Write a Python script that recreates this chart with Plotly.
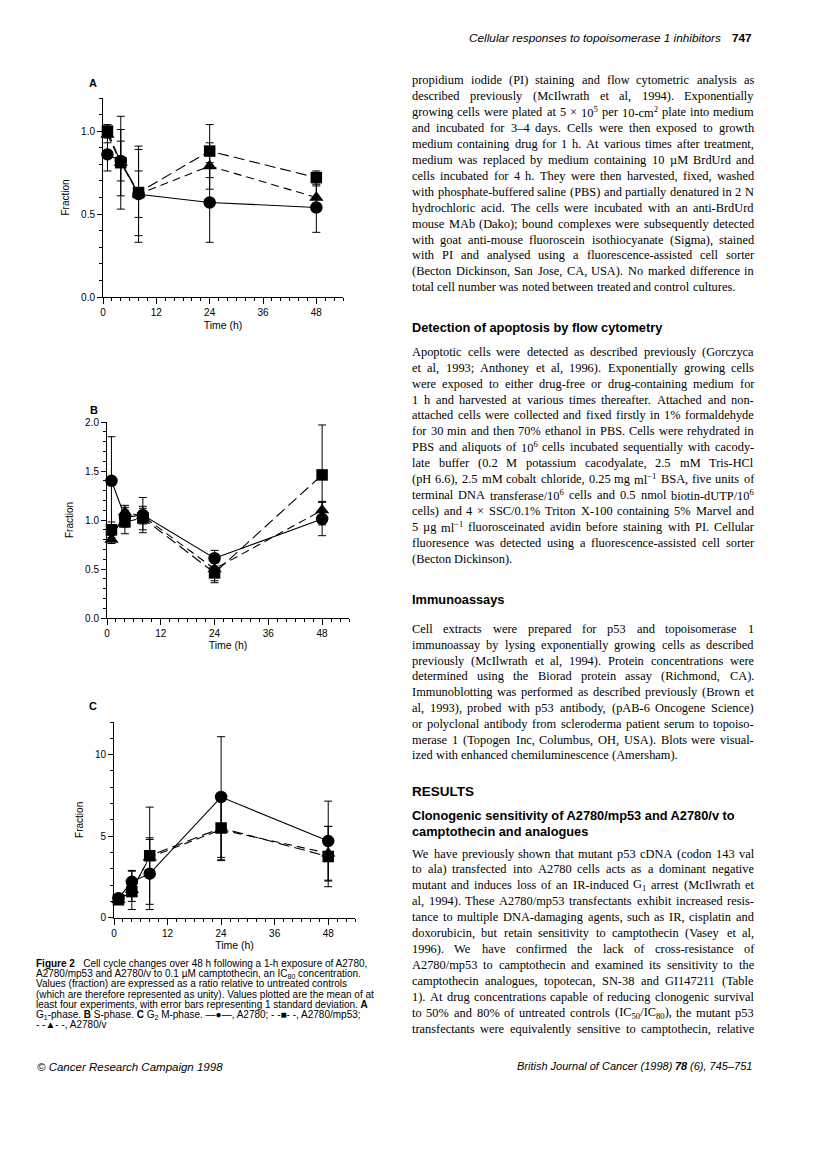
import re
import plotly.graph_objects as go

W, H = 816, 1151
OFF = 8  # page body margin of the html page
SANS = "Liberation Sans"
SERIF = "Liberation Serif"

# ---------------- data ----------------
time_h = [1, 4, 8, 24, 48]
x_ticks = [0, 12, 24, 36, 48]

# A: G1-phase
g1_a2780 = [0.86, 0.82, 0.62, 0.57, 0.54]
g1_a2780_sd = [0.10, 0.12, 0.29, 0.24, 0.15]
g1_mp53 = [1.00, 0.81, 0.63, 0.88, 0.72]
g1_mp53_sd = [0.04, 0.28, 0.26, 0.16, 0.04]
g1_v = [0.98, 0.81, 0.62, 0.79, 0.60]
g1_v_sd = [0.05, 0.20, 0.14, 0.14, 0.07]

# B: S-phase
s_a2780 = [1.40, 1.03, 1.05, 0.61, 1.01]
s_a2780_sd = [0.45, 0.10, 0.18, 0.08, 0.17]
s_mp53 = [0.90, 0.98, 1.02, 0.46, 1.46]
s_mp53_sd = [0.08, 0.12, 0.12, 0.10, 0.51]
s_v = [0.80, 1.08, 1.04, 0.50, 1.10]
s_v_sd = [0.04, 0.07, 0.08, 0.12, 0.09]

# C: G2/M-phase
g2m_a2780 = [1.2, 2.2, 2.7, 7.4, 4.7]
g2m_a2780_sd = [0.2, 0.65, 2.2, 3.7, 2.45]
g2m_mp53 = [1.1, 1.6, 3.8, 5.5, 3.75]
g2m_mp53_sd = [0.1, 0.6, 2.98, 1.95, 1.85]
g2m_v = [1.1, 1.7, 3.7, 5.4, 3.95]
g2m_v_sd = [0.1, 1.2, 1.1, 1.9, 1.65]

series_names = ["A2780", "A2780/mp53", "A2780/v"]

fig = go.Figure()


def py(y):
    return 1 - (y - OFF) / H


def pxx(x):
    return (x - OFF) / W


styles = {
    "A2780": dict(symbol="circle", size=12.5, dash="solid"),
    "A2780/mp53": dict(symbol="square", size=11.5, dash="11px,5px"),
    "A2780/v": dict(symbol="triangle-up", size=12.5, dash="8px,5px"),
}

panels = [
    ("x", "y", [(g1_a2780, g1_a2780_sd), (g1_mp53, g1_mp53_sd), (g1_v, g1_v_sd)]),
    ("x2", "y2", [(s_a2780, s_a2780_sd), (s_mp53, s_mp53_sd), (s_v, s_v_sd)]),
    ("x3", "y3", [(g2m_a2780, g2m_a2780_sd), (g2m_mp53, g2m_mp53_sd), (g2m_v, g2m_v_sd)]),
]

for xa, ya, data in panels:
    for name, (vals, sd) in zip(series_names, data):
        st = styles[name]
        fig.add_trace(go.Scatter(
            x=time_h, y=vals, name=name, xaxis=xa, yaxis=ya,
            mode="lines+markers", cliponaxis=False,
            line=dict(color="black", width=1.1, dash=st["dash"]),
            marker=dict(symbol=st["symbol"], size=st["size"], color="black"),
            error_y=dict(type="data", array=sd, visible=True, color="black",
                         thickness=1, width=4),
            showlegend=False,
        ))


def xaxis_cfg(x0, x1, y_axis, standoff):
    return dict(
        domain=[pxx(x0), pxx(x1)], range=[0, 54], anchor=y_axis,
        tickvals=x_ticks, ticks="outside", ticklen=6, tickwidth=1, tickcolor="black",
        showline=True, linecolor="black", linewidth=1, showgrid=False, zeroline=False,
        tickfont=dict(family=SANS, size=10, color="black"), automargin=False,
        minor=dict(dtick=2, tick0=0, ticks="outside", ticklen=3, tickcolor="black", showgrid=False),
        title=dict(text="Time (h)", font=dict(family=SANS, size=10.5, color="black"), standoff=standoff),
    )


def yaxis_cfg(y0px, y1px, rng, tickvals, ticktext, minor_dt, x_axis, standoff):
    return dict(
        domain=[py(y0px), py(y1px)], range=rng, anchor=x_axis,
        tickvals=tickvals, ticktext=ticktext, ticks="outside", ticklen=5, tickwidth=1,
        tickcolor="black", showline=True, linecolor="black", linewidth=1,
        showgrid=False, zeroline=False, automargin=False,
        tickfont=dict(family=SANS, size=10, color="black"),
        minor=dict(dtick=minor_dt, tick0=0, ticks="outside", ticklen=3, tickcolor="black", showgrid=False),
        title=dict(text="Fraction", font=dict(family=SANS, size=10, color="black"), standoff=standoff),
    )


fig.update_layout(
    width=W, height=H, margin=dict(l=0, r=0, t=0, b=0),
    paper_bgcolor="white", plot_bgcolor="white", showlegend=False,
    font=dict(family=SANS, color="black"),
    xaxis=xaxis_cfg(103, 343, "y", 4),
    yaxis=yaxis_cfg(297, 98, [0, 1.2001], [0, 0.5, 1.0], ["0.0", "0.5", "1.0"], 0.1, "x", 9),
    xaxis2=xaxis_cfg(107, 349, "y2", 1),
    yaxis2=yaxis_cfg(618, 422, [0, 2.0001], [0, 0.5, 1.0, 1.5, 2.0], ["0.0", "0.5", "1.0", "1.5", "2.0"], 0.1, "x2", 9),
    xaxis3=xaxis_cfg(114, 355, "y3", 2),
    yaxis3=yaxis_cfg(917.7, 722, [0, 12.001], [0, 5, 10], ["0", "5", "10"], 1, "x3", 9),
)

ann = []


def text(x, y, s, size, family=SANS, xanchor="left", weight="normal", style="normal"):
    ann.append(dict(x=pxx(x), y=py(y), xref="paper", yref="paper", text=s,
                    showarrow=False, xanchor=xanchor, yanchor="middle",
                    font=dict(family=family, size=size, color="black", weight=weight, style=style),
                    align="left", borderpad=0))


# panel letters
text(88, 83, "A", 11, weight="bold")
text(89, 410, "B", 11, weight="bold")
text(88, 706, "C", 11, weight="bold")

# ---------------- right column body text ----------------
TW = {' ': 250, '!': 333, '"': 408, '#': 500, '$': 500, '%': 833, '&': 778, "'": 333, '(': 333,
      ')': 333, '*': 500, '+': 564, ',': 250, '-': 333, '.': 250, '/': 278, ':': 278, ';': 278,
      '<': 564, '=': 564, '>': 564, '?': 444, '@': 921, 'A': 722, 'B': 667, 'C': 667, 'D': 722,
      'E': 611, 'F': 556, 'G': 722, 'H': 722, 'I': 333, 'J': 389, 'K': 722, 'L': 611, 'M': 889,
      'N': 722, 'O': 722, 'P': 556, 'Q': 722, 'R': 667, 'S': 556, 'T': 611, 'U': 722, 'V': 722,
      'W': 944, 'X': 722, 'Y': 722, 'Z': 611, '[': 333, ']': 333, 'a': 444, 'b': 500, 'c': 444,
      'd': 500, 'e': 444, 'f': 333, 'g': 500, 'h': 500, 'i': 278, 'j': 278, 'k': 500, 'l': 278,
      'm': 778, 'n': 500, 'o': 500, 'p': 500, 'q': 500, 'r': 333, 's': 389, 't': 278, 'u': 500,
      'v': 500, 'w': 722, 'x': 500, 'y': 500, 'z': 444, '×': 564, 'µ': 500, '–': 500, '−': 564}


def word_width(word, size):
    total = 0.0
    scale = 1.0
    for part in re.split(r'(<[^>]+>)', word):
        if part.startswith('<'):
            if part in ('<sup>', '<sub>'):
                scale = 0.7
            elif part in ('</sup>', '</sub>'):
                scale = 1.0
            continue
        for ch in part:
            total += TW.get(ch, 500) * scale
    return total * size / 1000.0


BODY_SIZE = 12.4
LEFT, RIGHT = 411, 753


def paragraph(y0, lines, step=15.95, justify_last=False):
    for i, line in enumerate(lines):
        y = y0 + i * step - 1
        words = line.split(' ')
        widths = [word_width(w, BODY_SIZE) for w in words]
        last = (i == len(lines) - 1) and not justify_last
        if last or len(words) == 1:
            gap = 250 * BODY_SIZE / 1000.0
        else:
            gap = (RIGHT - LEFT - sum(widths)) / (len(words) - 1)
            gap = max(gap, 1.5)
        x = LEFT
        for w, wd in zip(words, widths):
            text(x, y, w, BODY_SIZE, SERIF)
            x += wd + gap


para1 = [
    "propidium iodide (PI) staining and flow cytometric analysis as",
    "described previously (McIlwrath et al, 1994). Exponentially",
    "growing cells were plated at 5 × 10<sup>5</sup> per 10-cm<sup>2</sup> plate into medium",
    "and incubated for 3–4 days. Cells were then exposed to growth",
    "medium containing drug for 1 h. At various times after treatment,",
    "medium was replaced by medium containing 10 µM BrdUrd and",
    "cells incubated for 4 h. They were then harvested, fixed, washed",
    "with phosphate-buffered saline (PBS) and partially denatured in 2 N",
    "hydrochloric acid. The cells were incubated with an anti-BrdUrd",
    "mouse MAb (Dako); bound complexes were subsequently detected",
    "with goat anti-mouse fluoroscein isothiocyanate (Sigma), stained",
    "with PI and analysed using a fluorescence-assisted cell sorter",
    "(Becton Dickinson, San Jose, CA, USA). No marked difference in",
    "total cell number was noted between treated and control cultures.",
]
para2 = [
    "Apoptotic cells were detected as described previously (Gorczyca",
    "et al, 1993; Anthoney et al, 1996). Exponentially growing cells",
    "were exposed to either drug-free or drug-containing medium for",
    "1 h and harvested at various times thereafter. Attached and non-",
    "attached cells were collected and fixed firstly in 1% formaldehyde",
    "for 30 min and then 70% ethanol in PBS. Cells were rehydrated in",
    "PBS and aliquots of 10<sup>6</sup> cells incubated sequentially with cacody-",
    "late buffer (0.2 M potassium cacodyalate, 2.5 mM Tris-HCl",
    "(pH 6.6), 2.5 mM cobalt chloride, 0.25 mg ml<sup>−1</sup> BSA, five units of",
    "terminal DNA transferase/10<sup>6</sup> cells and 0.5 nmol biotin-dUTP/10<sup>6</sup>",
    "cells) and 4 × SSC/0.1% Triton X-100 containing 5% Marvel and",
    "5 µg ml<sup>−1</sup> fluorosceinated avidin before staining with PI. Cellular",
    "fluoresence was detected using a fluorescence-assisted cell sorter",
    "(Becton Dickinson).",
]
para3 = [
    "Cell extracts were prepared for p53 and topoisomerase 1",
    "immunoassay by lysing exponentially growing cells as described",
    "previously (McIlwrath et al, 1994). Protein concentrations were",
    "determined using the Biorad protein assay (Richmond, CA).",
    "Immunoblotting was performed as described previously (Brown et",
    "al, 1993), probed with p53 antibody, (pAB-6 Oncogene Science)",
    "or polyclonal antibody from scleroderma patient serum to topoiso-",
    "merase 1 (Topogen Inc, Columbus, OH, USA). Blots were visual-",
    "ized with enhanced chemiluminescence (Amersham).",
]
para4 = [
    "We have previously shown that mutant p53 cDNA (codon 143 val",
    "to ala) transfected into A2780 cells acts as a dominant negative",
    "mutant and induces loss of an IR-induced G<sub>1</sub> arrest (McIlwrath et",
    "al, 1994). These A2780/mp53 transfectants exhibit increased resis-",
    "tance to multiple DNA-damaging agents, such as IR, cisplatin and",
    "doxorubicin, but retain sensitivity to camptothecin (Vasey et al,",
    "1996). We have confirmed the lack of cross-resistance of",
    "A2780/mp53 to camptothecin and examined its sensitivity to the",
    "camptothecin analogues, topotecan, SN-38 and GI147211 (Table",
    "1). At drug concentrations capable of reducing clonogenic survival",
    "to 50% and 80% of untreated controls (IC<sub>50</sub>/IC<sub>80</sub>), the mutant p53",
    "transfectants were equivalently sensitive to camptothecin, relative",
]

paragraph(81, para1)
text(LEFT, 327.5, "Detection of apoptosis by flow cytometry", 12.8, weight="bold")
paragraph(352.7, para2)
text(LEFT, 599.5, "Immunoassays", 12.8, weight="bold")
paragraph(630, para3, step=15.8)
text(LEFT, 791, "RESULTS", 13.5, weight="bold")
text(LEFT, 815.5, "Clonogenic sensitivity of A2780/mp53 and A2780/v to", 12.8, weight="bold")
text(LEFT, 831.5, "camptothecin and analogues", 12.8, weight="bold")
paragraph(854.5, para4, justify_last=True)

# header / footer
text(722, 38, "Cellular responses to topoisomerase 1 inhibitors", 11.8, SANS, "right", style="italic")
text(753, 38, "747", 11.8, SANS, "right", weight="bold")
text(674, 1066, "British Journal of Cancer (1998)", 11, SANS, "right", style="italic")
text(689, 1066, "78", 11, SANS, "right", weight="bold", style="italic")
text(753, 1066, "(6), 745–751", 11, SANS, "right", style="italic")
text(36, 1066.5, "© Cancer Research Campaign 1998", 11.5, SANS, style="italic")

# caption
caption = [
    "<b>Figure 2</b>\u00a0\u00a0\u00a0Cell cycle changes over 48 h following a 1-h exposure of A2780,",
    "A2780/mp53 and A2780/v to 0.1 µM camptothecin, an IC<sub>80</sub> concentration.",
    "Values (fraction) are expressed as a ratio relative to untreated controls",
    "(which are therefore represented as unity). Values plotted are the mean of at",
    "least four experiments, with error bars representing 1 standard deviation. <b>A</b>",
    "G<sub>1</sub>-phase. <b>B</b> S-phase. <b>C</b> G<sub>2</sub> M-phase. —●—, A2780; - -■- -, A2780/mp53;",
    "- -▲- -, A2780/v",
]
for i, line in enumerate(caption):
    text(35, 963.5 + i * 10.2, line, 10, SANS)

fig.update_layout(annotations=ann)
fig.write_html("out.html")
